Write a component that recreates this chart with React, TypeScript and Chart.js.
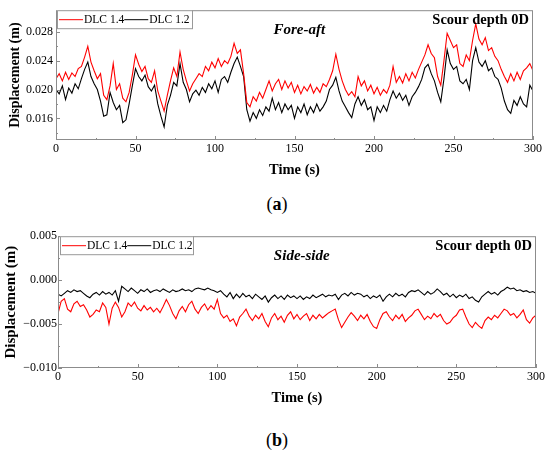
import { useEffect, useRef } from "react";
import { Chart, registerables } from "chart.js";

Chart.register(...registerables);

const FONT = "'Liberation Serif', 'Times New Roman', serif";

// sampling grid: every 2 s from 0 to 300 s
const TIME = Array.from({ length: 151 }, (_, i) => i * 2);
const X_TICKS = [0, 50, 100, 150, 200, 250, 300];
const X_MINOR = [25, 75, 125, 175, 225, 275];

const SERIES_LABELS = ["DLC 1.4", "DLC 1.2"];
const SERIES_COLORS = ["#ff0000", "#000000"];

// (a) fore-aft
const FA_DLC14 = [
  0.0215, 0.0222, 0.0212, 0.0224, 0.0214, 0.0223, 0.0218, 0.0229, 0.0232, 0.0245,
  0.026, 0.0238, 0.0226, 0.0215, 0.0222, 0.0192, 0.0186, 0.0205, 0.0236, 0.02,
  0.0208, 0.0188, 0.0183, 0.0196, 0.022, 0.0248, 0.0235, 0.0225, 0.0232, 0.0215,
  0.021, 0.0226, 0.0198, 0.0184, 0.017, 0.0192, 0.0212, 0.023, 0.0218, 0.0252,
  0.0228, 0.0212, 0.0198, 0.0208, 0.0215, 0.0222, 0.0218, 0.0232, 0.0226, 0.0238,
  0.023, 0.0243, 0.0232, 0.024, 0.0236, 0.0246, 0.0264, 0.025, 0.0255, 0.0222,
  0.0182, 0.0176, 0.019, 0.0184, 0.0196, 0.0188, 0.02, 0.0212, 0.0198, 0.0208,
  0.0214, 0.02, 0.0212, 0.0202, 0.021, 0.0196, 0.0206, 0.0194, 0.0204, 0.0198,
  0.0207, 0.0195, 0.0203, 0.0196, 0.0208, 0.0204, 0.0214, 0.0226, 0.0249, 0.0228,
  0.0212, 0.02, 0.0192, 0.0197, 0.019, 0.0218, 0.0205, 0.0212, 0.0198, 0.0206,
  0.0194, 0.0203, 0.0192, 0.02, 0.0195, 0.0206, 0.0232, 0.021, 0.0218, 0.0209,
  0.0222, 0.0212, 0.0224, 0.0216, 0.0228, 0.0238, 0.0248, 0.0262, 0.025, 0.0244,
  0.0218, 0.0206, 0.024, 0.0278, 0.0268, 0.0258, 0.0262, 0.0236, 0.0232, 0.0248,
  0.024, 0.0268, 0.0291, 0.027, 0.0262, 0.0272, 0.0254, 0.0258, 0.0246, 0.024,
  0.0228, 0.0218, 0.021, 0.0222, 0.0212, 0.0224, 0.0214, 0.0226, 0.023, 0.0236,
  0.0226,
];
const FA_DLC12 = [
  0.02, 0.0194, 0.0205, 0.0186, 0.0202, 0.0195, 0.0208, 0.0201, 0.0215, 0.0228,
  0.0238, 0.0218, 0.0208, 0.02, 0.0184, 0.0163, 0.0165, 0.0196, 0.0182, 0.0172,
  0.0178, 0.0154, 0.0158, 0.018, 0.0205, 0.0229, 0.0218, 0.0212, 0.022, 0.0204,
  0.0198, 0.0206, 0.018, 0.0163, 0.0148, 0.0178, 0.0192, 0.021, 0.0205, 0.0236,
  0.021, 0.02, 0.0183, 0.0194, 0.0199, 0.0192, 0.0203, 0.0196, 0.0208, 0.0201,
  0.0212, 0.0196, 0.0214, 0.0218, 0.021, 0.0224, 0.0236, 0.0245, 0.0232, 0.0218,
  0.0172, 0.0156, 0.0168, 0.016, 0.0172, 0.0164, 0.0176, 0.017, 0.0188, 0.0172,
  0.0182, 0.0168, 0.018, 0.0172, 0.0178, 0.016, 0.0176, 0.0168, 0.018, 0.0165,
  0.0176, 0.0168, 0.018, 0.017, 0.0176, 0.0184, 0.02, 0.0206, 0.0217, 0.0198,
  0.0184, 0.0176, 0.0168, 0.0161, 0.018, 0.019, 0.0178, 0.0186, 0.0172, 0.0176,
  0.0157, 0.0176, 0.0168, 0.0178, 0.017, 0.0186, 0.0198, 0.0188, 0.0195, 0.0185,
  0.0192, 0.0178, 0.019, 0.0196, 0.0204, 0.0214, 0.023, 0.0235, 0.0222, 0.0212,
  0.0196, 0.0183, 0.0215, 0.0255, 0.0236, 0.0228, 0.0232, 0.0212, 0.0208, 0.0214,
  0.02, 0.024, 0.0258, 0.0238, 0.0232, 0.024, 0.0226, 0.023, 0.0218, 0.0214,
  0.0202, 0.0184, 0.0172, 0.0167, 0.0185, 0.0178, 0.019, 0.018, 0.0176, 0.0206,
  0.0198,
];
const FA_Y_TICKS = [0.016, 0.02, 0.024, 0.028];
const FA_Y_MINOR = [0.014, 0.018, 0.022, 0.026, 0.03];

// (b) side-side
const SS_DLC14 = [
  -0.0038, -0.0024, -0.0021, -0.0033, -0.0036, -0.0027, -0.0024, -0.003, -0.0028, -0.0034,
  -0.0042, -0.0039, -0.0034, -0.0036, -0.0026, -0.0031, -0.005, -0.0032, -0.0025, -0.0031,
  -0.0042, -0.0036, -0.0026, -0.003, -0.0025, -0.0032, -0.0035, -0.0029, -0.0034, -0.0031,
  -0.0036, -0.0032, -0.0037, -0.003, -0.0022, -0.0029, -0.0038, -0.0044, -0.0035, -0.003,
  -0.0036, -0.0028, -0.0024, -0.0033, -0.0038, -0.0031, -0.0027, -0.0034, -0.0029, -0.0033,
  -0.0022, -0.0038, -0.0043, -0.004, -0.0047, -0.0044, -0.0052, -0.0042, -0.0038, -0.0033,
  -0.0041, -0.0046, -0.004, -0.0044, -0.0038, -0.0047, -0.0053, -0.0043, -0.0038, -0.0045,
  -0.0041, -0.0048, -0.004, -0.0036, -0.0044, -0.0039, -0.0045, -0.0041, -0.0038, -0.0046,
  -0.004, -0.0044, -0.0039, -0.0043, -0.004, -0.0037, -0.0035, -0.0033, -0.0045, -0.0054,
  -0.0048, -0.0042, -0.0037, -0.0041, -0.0046, -0.004, -0.0044, -0.0039, -0.0047, -0.0053,
  -0.0055, -0.0045, -0.0038, -0.0036, -0.0042, -0.0046, -0.004, -0.0044, -0.0039, -0.0047,
  -0.0043, -0.004, -0.0035, -0.0033, -0.0039, -0.0045, -0.0041, -0.0044, -0.0038, -0.0042,
  -0.0039, -0.0046, -0.005, -0.0048, -0.0043, -0.004, -0.0034, -0.0033, -0.0042, -0.005,
  -0.0054, -0.0048, -0.0052, -0.0055, -0.0046, -0.0042, -0.0045, -0.004, -0.0043, -0.0038,
  -0.0033, -0.0035, -0.004, -0.0038, -0.0043, -0.0039, -0.0034, -0.0045, -0.0049, -0.0043,
  -0.004,
];
const SS_DLC12 = [
  -0.0016, -0.0018, -0.0015, -0.0012, -0.0014, -0.0011, -0.0013, -0.0012, -0.0015, -0.0018,
  -0.002, -0.0016, -0.0014, -0.0017, -0.0013, -0.0016, -0.0014, -0.0017, -0.0012, -0.0024,
  -0.0007, -0.001, -0.0013, -0.0009, -0.0012, -0.0015, -0.0011, -0.0013, -0.001, -0.0014,
  -0.0012, -0.0011, -0.0013, -0.001, -0.0012, -0.0014, -0.0011, -0.0013, -0.0012, -0.001,
  -0.0012, -0.0011, -0.0013, -0.001, -0.0009, -0.001, -0.0011, -0.0009, -0.0011, -0.0012,
  -0.0014, -0.0012, -0.0016, -0.0019, -0.0014, -0.0021, -0.0016, -0.002, -0.0015, -0.0019,
  -0.0017, -0.0021, -0.0016, -0.0019, -0.0022, -0.0018, -0.0025, -0.002, -0.0017, -0.0021,
  -0.0018, -0.0022, -0.0017, -0.002, -0.0018, -0.0021, -0.0018, -0.0022, -0.0019, -0.0021,
  -0.0017, -0.002, -0.0018, -0.0016, -0.0019, -0.0017, -0.0018, -0.0016, -0.0022, -0.0017,
  -0.0015, -0.0018, -0.0014, -0.0017, -0.0015, -0.0016, -0.0019, -0.0017, -0.0021, -0.0018,
  -0.002, -0.0017, -0.0024, -0.0019, -0.0016, -0.0019, -0.0015, -0.0018, -0.0016, -0.0019,
  -0.0014, -0.0012, -0.0013, -0.0011, -0.0014, -0.0017, -0.0013, -0.0016, -0.0014, -0.001,
  -0.0013, -0.0017, -0.0015, -0.0019, -0.0016, -0.002, -0.0017, -0.0019, -0.0016, -0.0021,
  -0.0019, -0.0023, -0.0025, -0.0019, -0.0016, -0.0013, -0.0016, -0.0014, -0.0017, -0.0013,
  -0.0011, -0.0008, -0.001, -0.0009, -0.0012, -0.0011, -0.0013, -0.0012, -0.0014, -0.0013,
  -0.0015,
];
const SS_Y_TICKS = [-0.01, -0.005, 0, 0.005];
const SS_Y_MINOR = [-0.0075, -0.0025, 0.0025];

// frame, inward ticks, legend box and the two notes
const decorPlugin = {
  id: "decor",
  afterDatasetsDraw(chart: any, _args: any, o: any) {
    const { ctx, chartArea: a } = chart;
    const xs = chart.scales.x;
    const ys = chart.scales.y;
    ctx.save();
    ctx.strokeStyle = "#8c8c8c";
    ctx.lineWidth = 1;
    ctx.strokeRect(a.left + 0.5, a.top + 0.5, a.right - a.left - 1, a.bottom - a.top - 1);

    ctx.beginPath();
    const xTick = (v: number, len: number) => {
      const p = Math.round(xs.getPixelForValue(v)) + 0.5;
      ctx.moveTo(p, a.bottom);
      ctx.lineTo(p, a.bottom - len);
    };
    const yTick = (v: number, len: number) => {
      const p = Math.round(ys.getPixelForValue(v)) + 0.5;
      ctx.moveTo(a.left, p);
      ctx.lineTo(a.left + len, p);
    };
    X_TICKS.forEach((v) => xTick(v, 4));
    X_MINOR.forEach((v) => xTick(v, 2));
    o.yMajor.forEach((v: number) => yTick(v, 4));
    o.yMinor.forEach((v: number) => yTick(v, 2));
    ctx.stroke();

    // legend
    const lx = a.left + o.legendDx;
    const ly = a.top;
    ctx.fillStyle = "#fff";
    ctx.fillRect(lx, ly, o.legendW, o.legendH);
    ctx.strokeStyle = "#999";
    ctx.strokeRect(lx + 0.5, ly + 0.5, o.legendW, o.legendH);
    ctx.font = `11.5px ${FONT}`;
    ctx.textBaseline = "middle";
    ctx.textAlign = "left";
    const cy = ly + o.legendH / 2 + 0.5;
    let cx = lx + 2;
    chart.data.datasets.forEach((ds: any) => {
      ctx.strokeStyle = ds.borderColor;
      ctx.beginPath();
      ctx.moveTo(cx, cy);
      ctx.lineTo(cx + 24, cy);
      ctx.stroke();
      cx += 24;
      ctx.fillStyle = "#000";
      ctx.fillText(ds.label, cx + 1, cy);
      cx += ctx.measureText(ds.label).width + 1;
    });

    // notes
    ctx.fillStyle = "#000";
    ctx.font = `bold 14.5px ${FONT}`;
    ctx.textAlign = "right";
    ctx.fillText("Scour depth 0D", a.right - 4, a.top + 10);
    ctx.font = `italic bold 15px ${FONT}`;
    ctx.textAlign = "center";
    ctx.fillText(o.note, a.left + (a.right - a.left) * 0.51, a.top + 20);
    ctx.restore();
  },
};

interface PanelProps {
  top: number;
  red: number[];
  black: number[];
  yMin: number;
  yMax: number;
  yTicks: number[];
  yMinor: number[];
  yWidth: number;
  padTop: number;
  padRight: number;
  tickPad: number;
  yTitleSize: number;
  yTitlePad: number;
  legendDx: number;
  legendW: number;
  legendH: number;
  note: string;
}

const fmt = (v: number) => (v < 0 ? "\u2212" + Math.abs(v).toFixed(3) : v.toFixed(3));

function Panel(p: PanelProps) {
  const canvasRef = useRef<HTMLCanvasElement>(null);
  const chartRef = useRef<Chart | null>(null);

  useEffect(() => {
    if (!canvasRef.current) return;
    const series = [p.red, p.black];

    chartRef.current?.destroy();
    chartRef.current = new Chart(canvasRef.current, {
      type: "line",
      data: {
        datasets: SERIES_LABELS.map((label, k) => ({
          label,
          data: TIME.map((t, i) => ({ x: t, y: series[k][i] })),
          borderColor: SERIES_COLORS[k],
          backgroundColor: SERIES_COLORS[k],
          borderWidth: 1.1,
          pointRadius: 0,
          tension: 0,
        })),
      },
      options: {
        animation: false,
        responsive: true,
        maintainAspectRatio: false,
        events: [],
        layout: { padding: { top: p.padTop, right: p.padRight, left: 0, bottom: 0 } },
        plugins: {
          legend: { display: false },
          tooltip: { enabled: false },
          decor: {
            yMajor: p.yTicks,
            yMinor: p.yMinor,
            legendDx: p.legendDx,
            legendW: p.legendW,
            legendH: p.legendH,
            note: p.note,
          },
        } as any,
        scales: {
          x: {
            type: "linear",
            min: 0,
            max: 300,
            grid: { display: false, drawTicks: false },
            border: { display: false },
            afterBuildTicks: (s: any) => {
              s.ticks = X_TICKS.map((v) => ({ value: v }));
            },
            afterFit: (s: any) => {
              s.height = 42;
            },
            ticks: {
              autoSkip: false,
              maxRotation: 0,
              padding: 2,
              color: "#000",
              font: { family: FONT, size: 12 },
            },
            title: {
              display: true,
              text: "Time (s)",
              color: "#000",
              font: { family: FONT, size: 14.5, weight: "bold" },
              padding: { top: 0, bottom: 3 },
            },
          },
          y: {
            type: "linear",
            min: p.yMin,
            max: p.yMax,
            grid: { display: false, drawTicks: false },
            border: { display: false },
            afterBuildTicks: (s: any) => {
              s.ticks = p.yTicks.map((v) => ({ value: v }));
            },
            afterFit: (s: any) => {
              s.width = p.yWidth;
            },
            ticks: {
              autoSkip: false,
              padding: p.tickPad,
              color: "#000",
              font: { family: FONT, size: 12 },
              callback: (v: any) => fmt(Number(v)),
            },
            title: {
              display: true,
              text: "Displacement (m)",
              color: "#000",
              font: { family: FONT, size: p.yTitleSize, weight: "bold" },
              padding: { top: p.yTitlePad, bottom: 0 },
            },
          },
        },
      },
      plugins: [decorPlugin],
    });

    return () => {
      chartRef.current?.destroy();
      chartRef.current = null;
    };
  }, []);

  return (
    <div style={{ position: "absolute", left: 0, top: p.top, width: 550, height: 182 }}>
      <canvas ref={canvasRef} />
    </div>
  );
}

const captionStyle = (top: number): React.CSSProperties => ({
  position: "absolute",
  left: 2,
  top,
  width: 550,
  textAlign: "center",
  fontFamily: FONT,
  fontSize: 18,
  lineHeight: "22px",
  color: "#000",
});

export default function App() {
  return (
    <div
      style={{
        position: "absolute",
        left: 0,
        top: 0,
        width: 550,
        height: 454,
        background: "#fff",
        overflow: "hidden",
      }}
    >
      <Panel
        top={0}
        red={FA_DLC14}
        black={FA_DLC12}
        yMin={0.013}
        yMax={0.031}
        yTicks={FA_Y_TICKS}
        yMinor={FA_Y_MINOR}
        yWidth={56}
        padTop={5}
        padRight={17}
        tickPad={3}
        yTitleSize={14}
        yTitlePad={7}
        legendDx={1}
        legendW={135}
        legendH={18}
        note="Fore-aft"
      />
      <div style={captionStyle(193)}>
        (<b>a</b>)
      </div>
      <Panel
        top={228}
        red={SS_DLC14}
        black={SS_DLC12}
        yMin={-0.01}
        yMax={0.005}
        yTicks={SS_Y_TICKS}
        yMinor={SS_Y_MINOR}
        yWidth={58}
        padTop={7}
        padRight={14}
        tickPad={1}
        yTitleSize={15}
        yTitlePad={2.5}
        legendDx={2}
        legendW={133}
        legendH={18}
        note="Side-side"
      />
      <div style={captionStyle(429)}>
        (<b>b</b>)
      </div>
    </div>
  );
}
